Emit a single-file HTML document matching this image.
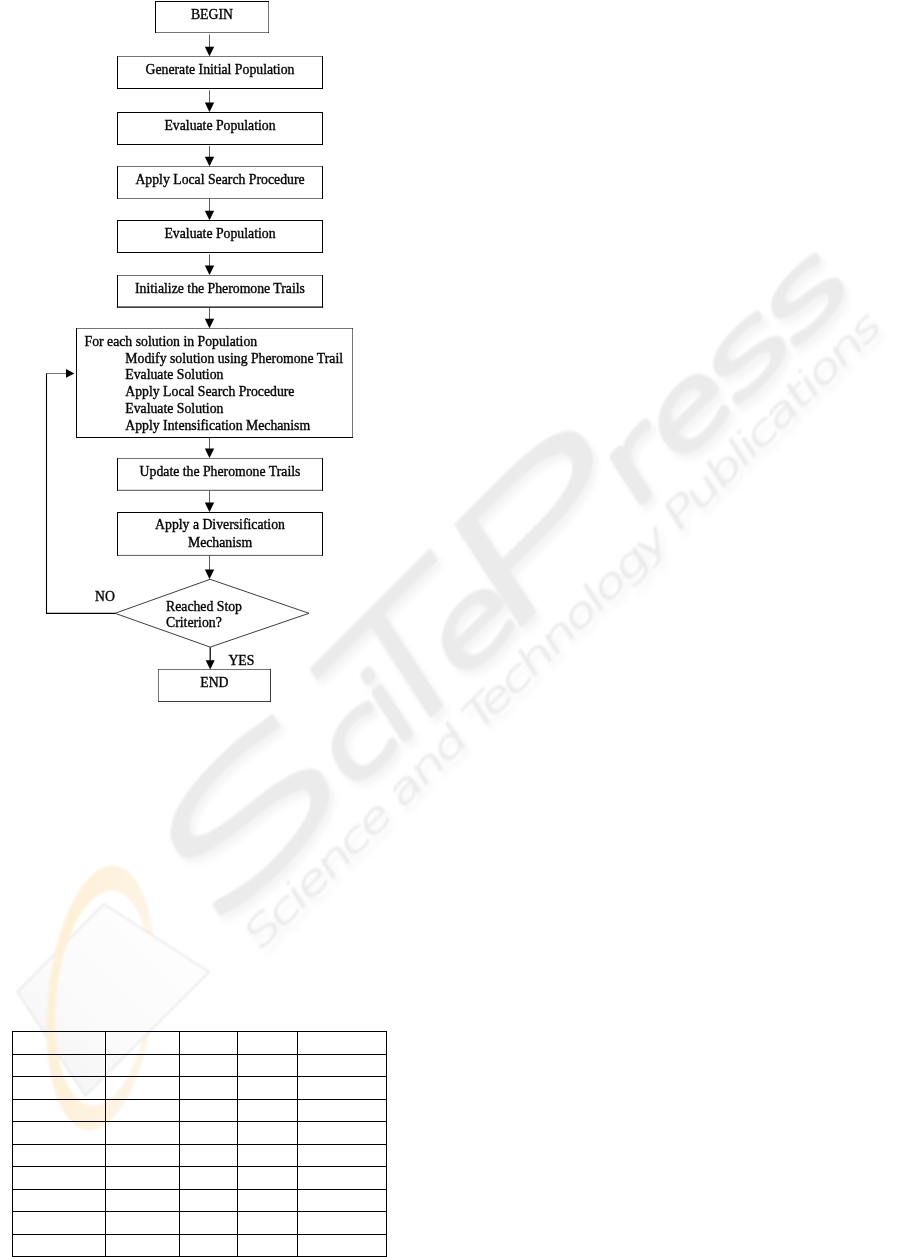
<!DOCTYPE html>
<html lang="en"><head><meta charset="utf-8"><title>Flowchart</title>
<style>
html,body{margin:0;padding:0;background:#fff}
body{width:901px;height:1257px;overflow:hidden;position:relative}
svg{position:absolute;left:0;top:0;display:block}
.t{font-family:"Liberation Serif","Times New Roman",serif;font-size:13.75px;fill:#000;stroke:#000;stroke-width:0.35px}
</style></head><body>
<svg width="901" height="1257" viewBox="0 0 901 1257">
<defs>
<filter id="sh" x="-5%" y="-20%" width="110%" height="140%"><feGaussianBlur stdDeviation="3"/></filter>
<filter id="sf" x="-5%" y="-20%" width="110%" height="140%"><feGaussianBlur stdDeviation="1"/></filter>
<linearGradient id="og" x1="0" y1="0" x2="1" y2="0"><stop offset="0" stop-color="#fdf0d6"/><stop offset="0.6" stop-color="#fdf3e0"/><stop offset="1" stop-color="#fcf4e6"/></linearGradient>
<linearGradient id="pg" x1="0" y1="1" x2="1" y2="0"><stop offset="0" stop-color="#f4f4f4"/><stop offset="0.45" stop-color="#fbfbfb"/><stop offset="1" stop-color="#ffffff"/></linearGradient>
<clipPath id="lc"><rect x="0" y="840" width="100" height="320"/></clipPath>
<path id="ring" fill-rule="evenodd" d="M101,865 a53,133 0 1,0 0.01,0 Z M102.5,890 a46.5,108 0 1,0 0.01,0 Z"/>
</defs>
<g filter="url(#sf)">
<use href="#ring" transform="rotate(6 101 998)" fill="url(#og)"/>
<polygon points="103.9,903.9 209.1,971.9 85.2,1095.7 17.3,991.8" fill="url(#pg)" stroke="#e9e9e9" stroke-width="1.8" stroke-linejoin="round"/>
<g transform="rotate(6 101 998)"><g clip-path="url(#lc)"><use href="#ring" fill="url(#og)"/></g></g>
</g>
<g transform="translate(5,6)"><g transform="translate(528,622) rotate(-45) skewX(-12)" filter="url(#sh)"><g font-family="DejaVu Sans Light,DejaVu Sans,sans-serif" font-weight="200" fill="#f4f4f4" stroke="#f4f4f4" stroke-linejoin="round"><text transform="translate(-457.7,-7.5) scale(2.265,1)" font-size="155" stroke-width="3" vector-effect="non-scaling-stroke">S</text><text transform="translate(-457.7,-4.5) scale(2.265,1)" font-size="155" stroke-width="3" vector-effect="non-scaling-stroke">S</text><text transform="translate(-457.7,-1.5) scale(2.265,1)" font-size="155" stroke-width="3" vector-effect="non-scaling-stroke">S</text><text transform="translate(-247.3,-4.5) scale(1.341,1)" font-size="96" stroke-width="9" vector-effect="non-scaling-stroke">c</text><text transform="translate(-182.0,-4.5) scale(1.160,1)" font-size="96" stroke-width="9" vector-effect="non-scaling-stroke">i</text><text transform="translate(-218.0,-7.5) scale(1.901,1)" font-size="155" stroke-width="3" vector-effect="non-scaling-stroke">T</text><text transform="translate(-218.0,-4.5) scale(1.901,1)" font-size="155" stroke-width="3" vector-effect="non-scaling-stroke">T</text><text transform="translate(-218.0,-1.5) scale(1.901,1)" font-size="155" stroke-width="3" vector-effect="non-scaling-stroke">T</text><text transform="translate(-95.4,-4.5) scale(1.561,1)" font-size="96" stroke-width="9" vector-effect="non-scaling-stroke">e</text><text transform="translate(-52.3,-7.5) scale(2.392,1)" font-size="155" stroke-width="3" vector-effect="non-scaling-stroke">P</text><text transform="translate(-52.3,-4.5) scale(2.392,1)" font-size="155" stroke-width="3" vector-effect="non-scaling-stroke">P</text><text transform="translate(-52.3,-1.5) scale(2.392,1)" font-size="155" stroke-width="3" vector-effect="non-scaling-stroke">P</text><text transform="translate(149.5,-4.5) scale(1.549,1)" font-size="96" stroke-width="9" vector-effect="non-scaling-stroke">r</text><text transform="translate(211.2,-4.5) scale(1.493,1)" font-size="96" stroke-width="9" vector-effect="non-scaling-stroke">e</text><text transform="translate(291.2,-4.5) scale(1.838,1)" font-size="96" stroke-width="9" vector-effect="non-scaling-stroke">s</text><text transform="translate(373.2,-4.5) scale(1.838,1)" font-size="96" stroke-width="9" vector-effect="non-scaling-stroke">s</text></g><text x="-416" y="43" letter-spacing="-2.5" font-family="DejaVu Sans Light,DejaVu Sans,sans-serif" font-weight="200" font-size="39" fill="#f4f4f4" stroke="#f4f4f4" stroke-width="1.2" textLength="880" lengthAdjust="spacingAndGlyphs">Science and Technology Publications</text></g></g>
<g transform="translate(528,622) rotate(-45) skewX(-12)" filter="url(#sf)"><g font-family="DejaVu Sans Light,DejaVu Sans,sans-serif" font-weight="200" fill="#ebebeb" stroke="#ebebeb" stroke-linejoin="round"><text transform="translate(-457.7,-7.5) scale(2.265,1)" font-size="155" stroke-width="3" vector-effect="non-scaling-stroke">S</text><text transform="translate(-457.7,-4.5) scale(2.265,1)" font-size="155" stroke-width="3" vector-effect="non-scaling-stroke">S</text><text transform="translate(-457.7,-1.5) scale(2.265,1)" font-size="155" stroke-width="3" vector-effect="non-scaling-stroke">S</text><text transform="translate(-247.3,-4.5) scale(1.341,1)" font-size="96" stroke-width="9" vector-effect="non-scaling-stroke">c</text><text transform="translate(-182.0,-4.5) scale(1.160,1)" font-size="96" stroke-width="9" vector-effect="non-scaling-stroke">i</text><text transform="translate(-218.0,-7.5) scale(1.901,1)" font-size="155" stroke-width="3" vector-effect="non-scaling-stroke">T</text><text transform="translate(-218.0,-4.5) scale(1.901,1)" font-size="155" stroke-width="3" vector-effect="non-scaling-stroke">T</text><text transform="translate(-218.0,-1.5) scale(1.901,1)" font-size="155" stroke-width="3" vector-effect="non-scaling-stroke">T</text><text transform="translate(-95.4,-4.5) scale(1.561,1)" font-size="96" stroke-width="9" vector-effect="non-scaling-stroke">e</text><text transform="translate(-52.3,-7.5) scale(2.392,1)" font-size="155" stroke-width="3" vector-effect="non-scaling-stroke">P</text><text transform="translate(-52.3,-4.5) scale(2.392,1)" font-size="155" stroke-width="3" vector-effect="non-scaling-stroke">P</text><text transform="translate(-52.3,-1.5) scale(2.392,1)" font-size="155" stroke-width="3" vector-effect="non-scaling-stroke">P</text><text transform="translate(149.5,-4.5) scale(1.549,1)" font-size="96" stroke-width="9" vector-effect="non-scaling-stroke">r</text><text transform="translate(211.2,-4.5) scale(1.493,1)" font-size="96" stroke-width="9" vector-effect="non-scaling-stroke">e</text><text transform="translate(291.2,-4.5) scale(1.838,1)" font-size="96" stroke-width="9" vector-effect="non-scaling-stroke">s</text><text transform="translate(373.2,-4.5) scale(1.838,1)" font-size="96" stroke-width="9" vector-effect="non-scaling-stroke">s</text></g><text x="-416" y="43" letter-spacing="-2.5" font-family="DejaVu Sans Light,DejaVu Sans,sans-serif" font-weight="200" font-size="39" fill="#ebebeb" stroke="#ebebeb" stroke-width="1.2" textLength="880" lengthAdjust="spacingAndGlyphs">Science and Technology Publications</text></g>

<g fill="none" stroke="#000" stroke-linecap="square">
<line x1="155.5" y1="1.5" x2="268.5" y2="1.5" stroke-width="1.0"/><line x1="155.5" y1="1.5" x2="155.5" y2="32.5" stroke-width="1.0"/><line x1="155.5" y1="32.5" x2="268.5" y2="32.5" stroke-width="0.55"/><line x1="268.5" y1="1.5" x2="268.5" y2="32.5" stroke-width="0.55"/>
<line x1="117.5" y1="56.5" x2="322.5" y2="56.5" stroke-width="0.55"/><line x1="117.5" y1="56.5" x2="117.5" y2="88.5" stroke-width="1.0"/><line x1="117.5" y1="88.5" x2="322.5" y2="88.5" stroke-width="1.0"/><line x1="322.5" y1="56.5" x2="322.5" y2="88.5" stroke-width="1.0"/>
<line x1="117.5" y1="112.5" x2="322.5" y2="112.5" stroke-width="1.0"/><line x1="117.5" y1="112.5" x2="117.5" y2="144.5" stroke-width="1.0"/><line x1="117.5" y1="144.5" x2="322.5" y2="144.5" stroke-width="1.0"/><line x1="322.5" y1="112.5" x2="322.5" y2="144.5" stroke-width="1.0"/>
<line x1="117.5" y1="166.5" x2="322.5" y2="166.5" stroke-width="0.55"/><line x1="117.5" y1="166.5" x2="117.5" y2="198.5" stroke-width="1.0"/><line x1="117.5" y1="198.5" x2="322.5" y2="198.5" stroke-width="0.55"/><line x1="322.5" y1="166.5" x2="322.5" y2="198.5" stroke-width="1.0"/>
<line x1="117.5" y1="220.5" x2="322.5" y2="220.5" stroke-width="1.0"/><line x1="117.5" y1="220.5" x2="117.5" y2="252.5" stroke-width="1.0"/><line x1="117.5" y1="252.5" x2="322.5" y2="252.5" stroke-width="1.0"/><line x1="322.5" y1="220.5" x2="322.5" y2="252.5" stroke-width="1.0"/>
<line x1="117.5" y1="275.5" x2="322.5" y2="275.5" stroke-width="0.55"/><line x1="117.5" y1="275.5" x2="117.5" y2="307.05" stroke-width="1.0"/><line x1="117.5" y1="307.05" x2="322.5" y2="307.05" stroke-width="1.15"/><line x1="322.5" y1="275.5" x2="322.5" y2="307.05" stroke-width="1.0"/>
<line x1="76.5" y1="328.5" x2="352.5" y2="328.5" stroke-width="0.55"/><line x1="76.5" y1="328.5" x2="76.5" y2="437.5" stroke-width="1.0"/><line x1="76.5" y1="437.5" x2="352.5" y2="437.5" stroke-width="1.0"/><line x1="352.5" y1="328.5" x2="352.5" y2="437.5" stroke-width="0.55"/>
<line x1="117.5" y1="458.5" x2="322.5" y2="458.5" stroke-width="0.55"/><line x1="117.5" y1="458.5" x2="117.5" y2="490.3" stroke-width="1.0"/><line x1="117.5" y1="490.3" x2="322.5" y2="490.3" stroke-width="0.7"/><line x1="322.5" y1="458.5" x2="322.5" y2="490.3" stroke-width="1.0"/>
<line x1="117.5" y1="512.5" x2="322.5" y2="512.5" stroke-width="1.0"/><line x1="117.5" y1="512.5" x2="117.5" y2="555.4" stroke-width="1.0"/><line x1="117.5" y1="555.4" x2="322.5" y2="555.4" stroke-width="0.65"/><line x1="322.5" y1="512.5" x2="322.5" y2="555.4" stroke-width="1.0"/>
<line x1="158.5" y1="669.5" x2="270.5" y2="669.5" stroke-width="0.55"/><line x1="158.5" y1="669.5" x2="158.5" y2="701.5" stroke-width="0.55"/><line x1="158.5" y1="701.5" x2="270.5" y2="701.5" stroke-width="0.75"/><line x1="270.5" y1="669.5" x2="270.5" y2="701.5" stroke-width="0.75"/>
</g>
<g fill="none" stroke="#1a1a1a">
<polygon points="210.1,579.3 309,613.3 210.2,647.1 115,613.3" stroke-width="0.85"/>
<polyline points="115,613.4 46.5,613.4 46.5,373.5" stroke="#000" stroke-width="1.1"/><line x1="46.5" y1="373.5" x2="67" y2="373.5" stroke-width="0.6"/>
</g>
<g stroke="#333" stroke-width="0.8" fill="#000">
<line x1="209.5" y1="34.4" x2="209.5" y2="47.5"/><polygon stroke="none" points="204.8,46.7 214.2,46.7 209.5,56.2"/>
<line x1="209.5" y1="90.3" x2="209.5" y2="103.4"/><polygon stroke="none" points="204.8,102.6 214.2,102.6 209.5,112.1"/>
<line x1="209.5" y1="146.1" x2="209.5" y2="157.5"/><polygon stroke="none" points="204.8,156.7 214.2,156.7 209.5,166.2"/>
<line x1="209.5" y1="198.2" x2="209.5" y2="211.6"/><polygon stroke="none" points="204.8,210.8 214.2,210.8 209.5,220.3"/>
<line x1="209.5" y1="254.3" x2="209.5" y2="266.2"/><polygon stroke="none" points="204.8,265.4 214.2,265.4 209.5,274.9"/>
<line x1="209.5" y1="307.2" x2="209.5" y2="319.5"/><polygon stroke="none" points="204.8,318.7 214.2,318.7 209.5,328.2"/>
<line x1="209.5" y1="437.2" x2="209.5" y2="449.2"/><polygon stroke="none" points="204.8,448.4 214.2,448.4 209.5,457.9"/>
<line x1="209.5" y1="490.5" x2="209.5" y2="503.29999999999995"/><polygon stroke="none" points="204.8,502.5 214.2,502.5 209.5,512.0"/>
<line x1="209.5" y1="555.2" x2="209.5" y2="570.3"/><polygon stroke="none" points="204.8,569.5 214.2,569.5 209.5,579.0"/>
<line x1="210.2" y1="647.2" x2="210.2" y2="661" stroke="#000" stroke-width="1.25"/><polygon stroke="none" points="205.7,660.3 214.7,660.3 210.2,669.4"/>
<polygon stroke="none" points="66,368.9 66,377.8 74.4,373.4"/>
</g>
<g class="t" opacity="0.995">
<text x="211.9" y="19.0" text-anchor="middle">BEGIN</text>
<text x="220.0" y="74.2" text-anchor="middle">Generate Initial Population</text>
<text x="220.0" y="130.1" text-anchor="middle">Evaluate Population</text>
<text x="220.0" y="184.2" text-anchor="middle">Apply Local Search Procedure</text>
<text x="220.0" y="238.3" text-anchor="middle">Evaluate Population</text>
<text x="220.0" y="292.9" text-anchor="middle">Initialize the Pheromone Trails</text>
<text x="220.0" y="475.9" text-anchor="middle">Update the Pheromone Trails</text>
<text x="220.0" y="529.1" text-anchor="middle">Apply a Diversification</text>
<text x="220.0" y="547.2" text-anchor="middle">Mechanism</text>
<text x="214.4" y="687.3" text-anchor="middle">END</text>
<text x="84.5" y="346.0">For each solution in Population</text>
<text x="125.3" y="362.7">Modify solution using Pheromone Trail</text>
<text x="125.3" y="379.4">Evaluate Solution</text>
<text x="125.3" y="396.1">Apply Local Search Procedure</text>
<text x="125.3" y="412.8">Evaluate Solution</text>
<text x="125.3" y="429.5">Apply Intensification Mechanism</text>
<text x="95" y="600.6">NO</text>
<text x="166" y="610.6">Reached Stop</text>
<text x="166" y="626.6">Criterion?</text>
<text x="228.4" y="664.7">YES</text>
</g>
<g fill="#000" shape-rendering="crispEdges">
<rect x="12" y="1031" width="375" height="1"/>
<rect x="12" y="1054" width="375" height="1"/>
<rect x="12" y="1076" width="375" height="1"/>
<rect x="12" y="1099" width="375" height="1"/>
<rect x="12" y="1121" width="375" height="1"/>
<rect x="12" y="1144" width="375" height="1"/>
<rect x="12" y="1166" width="375" height="1"/>
<rect x="12" y="1189" width="375" height="1"/>
<rect x="12" y="1211" width="375" height="1"/>
<rect x="12" y="1234" width="375" height="1"/>
<rect x="12" y="1256" width="375" height="1"/>
<rect x="12" y="1031" width="1" height="226"/>
<rect x="105" y="1031" width="1" height="226"/>
<rect x="179" y="1031" width="1" height="226"/>
<rect x="237" y="1031" width="1" height="226"/>
<rect x="297" y="1031" width="1" height="226"/>
<rect x="386" y="1031" width="1" height="226"/>
</g>
</svg>
</body></html>
